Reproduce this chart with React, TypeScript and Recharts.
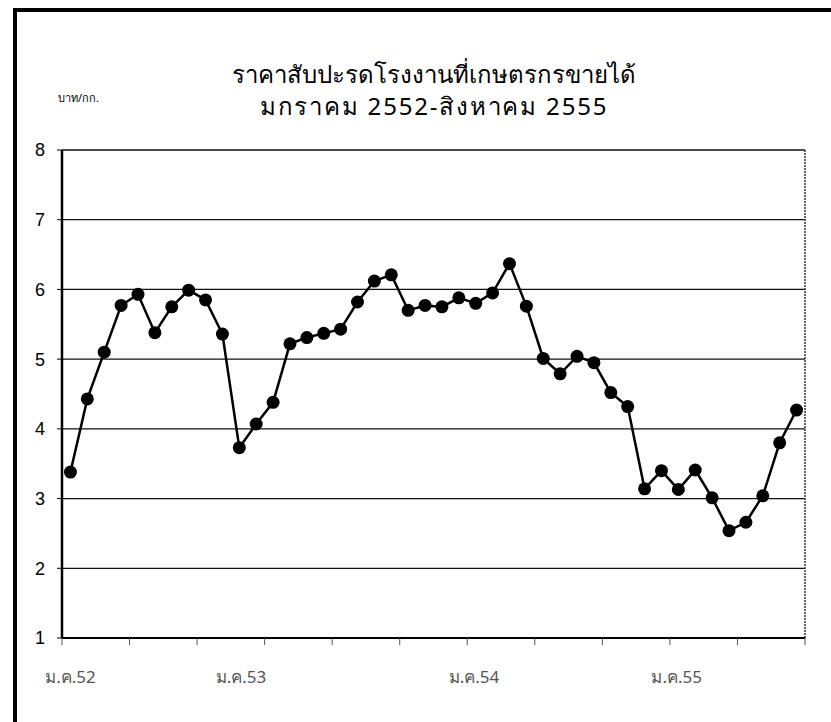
import React from "react";
import { LineChart, Line, XAxis, YAxis, CartesianGrid, ReferenceLine } from "recharts";

// ราคาสับปะรดโรงงาน บาท/กก. ม.ค.52 - ส.ค.55
const monthAbbr = ["ม.ค.", "ก.พ.", "มี.ค.", "เม.ย.", "พ.ค.", "มิ.ย.", "ก.ค.", "ส.ค.", "ก.ย.", "ต.ค.", "พ.ย.", "ธ.ค."];
const years = ["52", "53", "54", "55"];

const prices = [
  3.38, 4.43, 5.1, 5.77, 5.93, 5.38, 5.75, 5.99, 5.85, 5.36,
  3.73, 4.07, 4.38, 5.22, 5.31, 5.37, 5.43, 5.82, 6.12, 6.21,
  5.7, 5.77, 5.75, 5.88, 5.8, 5.95, 6.37, 5.76, 5.01, 4.79,
  5.04, 4.95, 4.52, 4.32, 3.14, 3.4, 3.13, 3.41, 3.01, 2.54,
  2.66, 3.04, 3.8, 4.27,
];

const yTicks = [1, 2, 3, 4, 5, 6, 7, 8];
const tickEvery = 4;
const xLabels = ["ม.ค.52", "ม.ค.53", "ม.ค.54", "ม.ค.55"];
const xLabelPos = [0.5, 10.6, 24.4, 36.4];

const months = years.flatMap((y) => monthAbbr.map((m) => m + y));
const data = prices.map((price, i) => ({ pos: i + 0.5, month: months[i], price }));

const boundaryTicks = Array.from({ length: prices.length / tickEvery + 1 }, (_, i) => i * tickEvery);
const xTicks = [...boundaryTicks, ...xLabelPos].sort((a, b) => a - b);

const XTick = ({ x, y, payload }: any) => {
  const v = payload.value;
  const li = xLabelPos.indexOf(v);
  if (li >= 0) {
    return (
      <text x={x} y={y + 45} textAnchor="middle" fontSize={17} fill="#555" fontFamily="Tahoma, 'Noto Sans', sans-serif">
        {xLabels[li]}
      </text>
    );
  }
  return <line x1={x} x2={x} y1={y} y2={y + 7} stroke="#555" strokeWidth={1} />;
};

export default function App() {
  return (
    <div style={{ position: "absolute", left: 0, top: 0, width: 831, height: 722, background: "#fff", fontFamily: "Tahoma, 'Noto Sans', sans-serif" }}>
      <div style={{ position: "absolute", left: 13, top: 8, width: 818, height: 714, borderLeft: "4px solid #000", borderTop: "4px solid #000", boxSizing: "border-box" }} />
      <div style={{ position: "absolute", left: 0, width: 868, top: 58, textAlign: "center", fontSize: 24, lineHeight: "32px", color: "#000" }}>
        <div>ราคาสับปะรดโรงงานที่เกษตรกรขายได้</div>
        <div style={{ letterSpacing: 1.8 }}>มกราคม 2552-สิงหาคม 2555</div>
      </div>
      <div style={{ position: "absolute", left: 58, top: 89, fontSize: 11, color: "#000" }}>บาท/กก.</div>
      <LineChart width={831} height={722} data={data} margin={{ top: 150, right: 26, bottom: 44, left: 12 }}>
        <CartesianGrid horizontal vertical={false} stroke="#111" strokeWidth={1.3} />
        <XAxis
          dataKey="pos"
          type="number"
          domain={[0, prices.length]}
          ticks={xTicks}
          interval={0}
          height={40}
          tickSize={0}
          tickMargin={0}
          tickLine={false}
          tick={<XTick />}
          axisLine={{ stroke: "#000", strokeWidth: 2 }}
        />
        <YAxis
          domain={[1, 8]}
          ticks={yTicks}
          interval={0}
          width={50}
          tickSize={5}
          tickMargin={12}
          tick={{ fontSize: 18, fill: "#000", fontFamily: "'Liberation Sans', Arial, sans-serif" }}
          tickLine={{ stroke: "#000" }}
          axisLine={{ stroke: "#000", strokeWidth: 2.5 }}
        />
        <ReferenceLine x={prices.length} stroke="#333" strokeWidth={1.5} strokeDasharray="2 1" />
        <Line
          dataKey="price"
          stroke="#000"
          strokeWidth={2.5}
          dot={{ r: 6.5, fill: "#000", stroke: "#000", strokeWidth: 0 }}
          isAnimationActive={false}
        />
      </LineChart>
    </div>
  );
}
